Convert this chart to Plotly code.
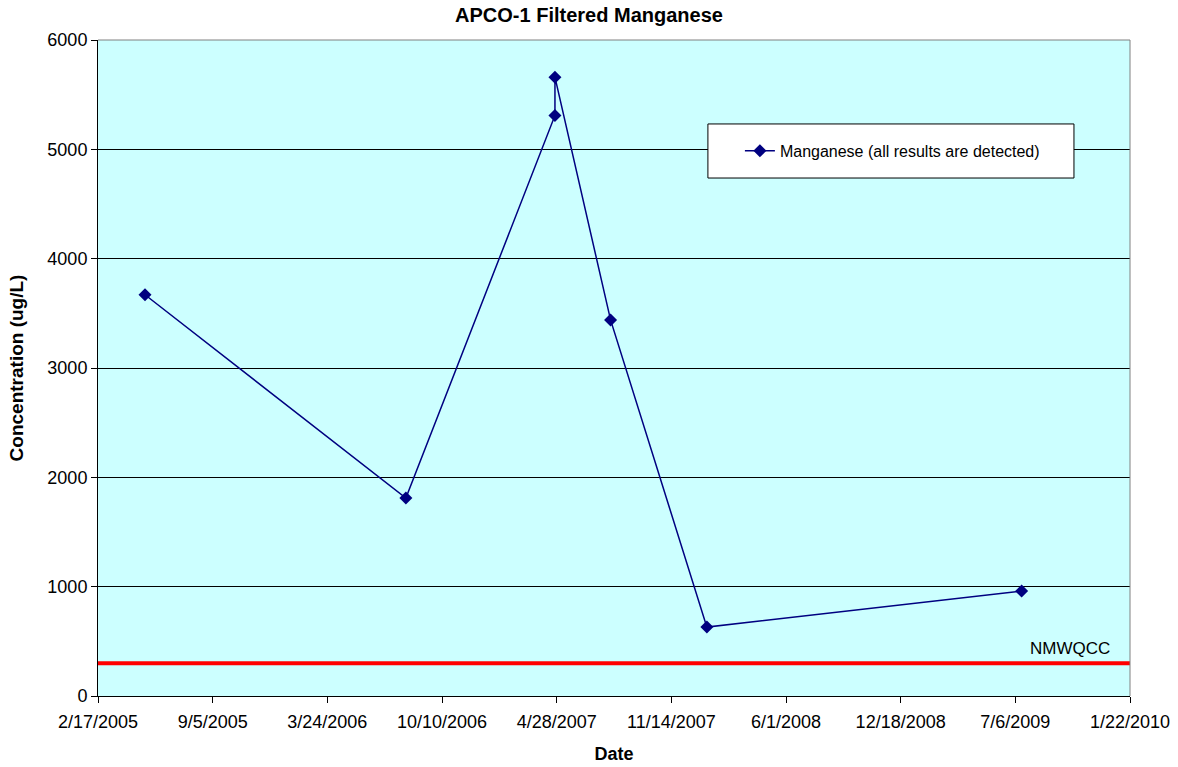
import datetime as dt
import plotly.graph_objects as go

# Filtered manganese results, APCO-1
sample_dates = ["2005-05-10", "2006-08-08", "2007-04-25", "2007-04-25",
                "2007-07-31", "2008-01-15", "2009-07-17"]
manganese = [3670, 1810, 5310, 5660, 3440, 630, 960]

# NMWQCC standard
nmwqcc_label = "NMWQCC"
nmwqcc_value = 300

# axis setup
x_start = dt.date(2005, 2, 17)
x_end = dt.date(2010, 1, 22)
tick_step_days = 200
y_ticks = [0, 1000, 2000, 3000, 4000, 5000, 6000]

tick_dates = []
d = x_start
while d <= x_end:
    tick_dates.append(d)
    d += dt.timedelta(days=tick_step_days)
tick_text = [f"{t.month}/{t.day}/{t.year}" for t in tick_dates]

FONT = "Liberation Sans, Arial, sans-serif"
NAVY = "#000080"

fig = go.Figure()

fig.add_trace(go.Scatter(
    x=[x_start.isoformat(), x_end.isoformat()],
    y=[nmwqcc_value, nmwqcc_value],
    mode="lines",
    line=dict(color="#FF0000", width=4),
    showlegend=False,
    hoverinfo="skip",
))

fig.add_trace(go.Scatter(
    x=sample_dates,
    y=manganese,
    mode="lines+markers",
    name="Manganese (all results are detected)",
    line=dict(color=NAVY, width=1.5),
    marker=dict(symbol="diamond", size=10, color=NAVY),
))

fig.add_annotation(
    x=1.0, xref="paper", xanchor="right", xshift=-18,
    y=nmwqcc_value, yref="y", yanchor="bottom", yshift=3,
    text=nmwqcc_label, showarrow=False,
    font=dict(family=FONT, size=17, color="#000000"),
)

# legend frame
fig.add_shape(type="rect", xref="paper", yref="paper",
              x0=0.591, x1=0.9457, y0=0.7896, y1=0.872,
              line=dict(color="#000000", width=1), fillcolor="#FFFFFF",
              layer="above")
# gray top/right plot border
fig.add_shape(type="line", xref="paper", yref="paper", x0=0, x1=1, y0=1, y1=1,
              line=dict(color="#808080", width=1))
fig.add_shape(type="line", xref="paper", yref="paper", x0=1, x1=1, y0=0, y1=1,
              line=dict(color="#808080", width=1))

fig.update_layout(
    width=1178, height=767,
    margin=dict(l=98, r=48, t=40, b=71, autoexpand=False),
    paper_bgcolor="#FFFFFF",
    plot_bgcolor="#CCFFFF",
    font=dict(family=FONT, size=18, color="#000000"),
    title=dict(text="<b>APCO-1 Filtered Manganese</b>", x=0.5, xref="container",
               xanchor="center", y=0.981, yanchor="middle",
               font=dict(family=FONT, size=20)),
    legend=dict(x=0.622, xanchor="left", y=0.831, yanchor="middle",
                bgcolor="rgba(0,0,0,0)", borderwidth=0,
                font=dict(family=FONT, size=16)),
    xaxis=dict(
        type="date",
        range=[x_start.isoformat(), x_end.isoformat()],
        tickvals=[t.isoformat() for t in tick_dates],
        ticktext=tick_text,
        ticks="outside", ticklen=6, tickcolor="#000000",
        ticklabelstandoff=3,
        showgrid=False, zeroline=False, automargin=False,
        showline=True, linecolor="#000000", linewidth=1,
        title=dict(text="<b>Date</b>", font=dict(family=FONT, size=18), standoff=16),
        tickfont=dict(family=FONT, size=18),
    ),
    yaxis=dict(
        range=[0, 6000],
        tickvals=y_ticks,
        ticks="outside", ticklen=6, tickcolor="#000000",
        showgrid=True, gridcolor="#000000", gridwidth=1,
        zeroline=False, automargin=False,
        showline=True, linecolor="#000000", linewidth=1,
        title=dict(text="<b>Concentration (ug/L)</b>", font=dict(family=FONT, size=19), standoff=18),
        tickfont=dict(family=FONT, size=18),
    ),
)

fig.write_html("out.html")
